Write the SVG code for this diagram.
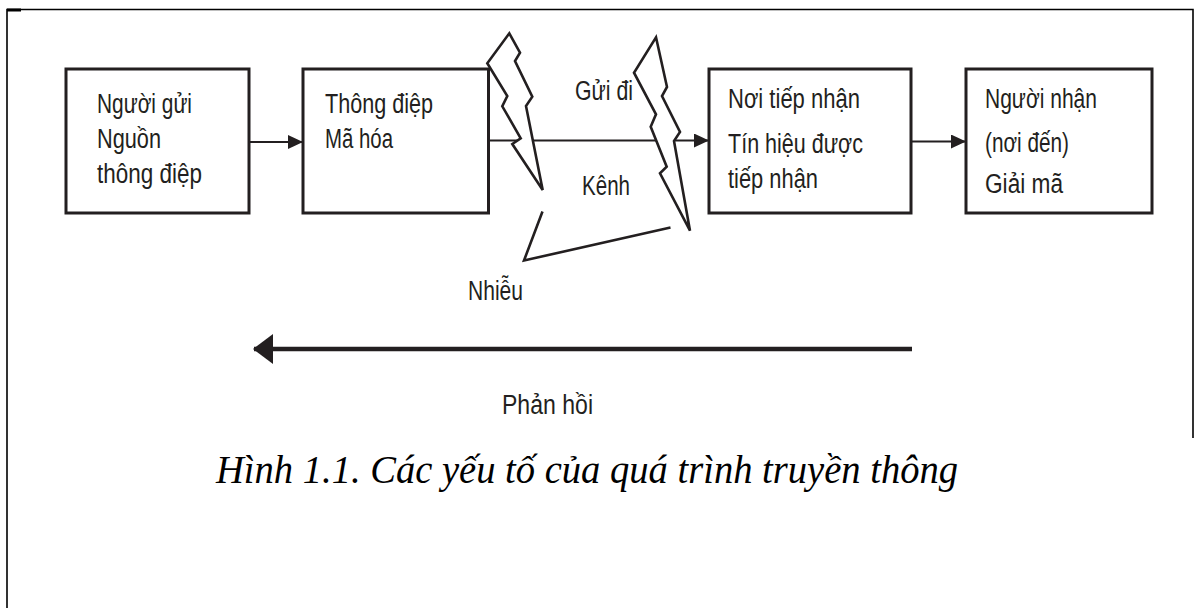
<svg xmlns="http://www.w3.org/2000/svg" width="1195" height="608" viewBox="0 0 1195 608">
  <defs>
    <style>
      .frame { fill: none; stroke: #000; stroke-width: 1.6; }
      .box { fill: #fff; stroke: #231f20; stroke-width: 3; }
      .lbl { font-family: "Liberation Sans", Arial, sans-serif; font-size: 27px; fill: #231f20; }
      .cap { font-family: "Liberation Serif", "Times New Roman", serif; font-style: italic; font-size: 41px; fill: #000; }
      .link { stroke: #231f20; stroke-width: 2.2; fill: none; }
      .bolt { fill: #fff; stroke: #231f20; stroke-width: 2.6; stroke-linejoin: miter; }
      .noise { fill: none; stroke: #231f20; stroke-width: 2.6; }
      .fb { stroke: #231f20; stroke-width: 4.5; fill: none; }
    </style>
    <marker id="head" viewBox="0 0 15 14" refX="15" refY="7" markerWidth="15" markerHeight="14" markerUnits="userSpaceOnUse" orient="auto">
      <path d="M0,0 L15,7 L0,14 Z" fill="#231f20"/>
    </marker>
    <marker id="headBig" viewBox="0 0 20 30" refX="19" refY="15" markerWidth="20" markerHeight="30" markerUnits="userSpaceOnUse" orient="auto">
      <path d="M0,0 L20,15 L0,30 Z" fill="#231f20"/>
    </marker>
  </defs>

  <!-- page frame -->
  <g id="frame">
    <path class="frame" d="M7,608 L7,9.5 L1193,9.5 L1193,438"/>
    <rect x="7" y="8.5" width="14" height="3" fill="#000"/>
  </g>

  <!-- connectors -->
  <g id="connectors">
    <line class="link" x1="249" y1="142" x2="303" y2="142" marker-end="url(#head)"/>
    <line class="link" x1="488.5" y1="140.5" x2="709" y2="140.5" marker-end="url(#head)"/>
    <line class="link" x1="911" y1="141.5" x2="966" y2="141.5" marker-end="url(#head)"/>
    <line class="fb" x1="912" y1="349" x2="254" y2="349" marker-end="url(#headBig)"/>
  </g>

  <g id="sender">
    <rect class="box" x="66" y="69" width="183" height="144"/>
    <text class="lbl" x="97" y="113" textLength="95" lengthAdjust="spacingAndGlyphs">Người gửi</text>
    <text class="lbl" x="97" y="148" textLength="64" lengthAdjust="spacingAndGlyphs">Nguồn</text>
    <text class="lbl" x="97" y="183" textLength="105" lengthAdjust="spacingAndGlyphs">thông điệp</text>
  </g>

  <g id="message">
    <rect class="box" x="303" y="69" width="185.5" height="144"/>
    <text class="lbl" x="325" y="113" textLength="108" lengthAdjust="spacingAndGlyphs">Thông điệp</text>
    <text class="lbl" x="325" y="148" textLength="68" lengthAdjust="spacingAndGlyphs">Mã hóa</text>
  </g>

  <g id="receiver-point">
    <rect class="box" x="709" y="69" width="202" height="144"/>
    <text class="lbl" x="728" y="108" textLength="132" lengthAdjust="spacingAndGlyphs">Nơi tiếp nhận</text>
    <text class="lbl" x="728" y="153" textLength="135" lengthAdjust="spacingAndGlyphs">Tín hiệu được</text>
    <text class="lbl" x="728" y="188" textLength="90" lengthAdjust="spacingAndGlyphs">tiếp nhận</text>
  </g>

  <g id="receiver">
    <rect class="box" x="966" y="69" width="186" height="144"/>
    <text class="lbl" x="985" y="108" textLength="112" lengthAdjust="spacingAndGlyphs">Người nhận</text>
    <text class="lbl" x="985" y="152" textLength="84" lengthAdjust="spacingAndGlyphs">(nơi đến)</text>
    <text class="lbl" x="985" y="193" textLength="78" lengthAdjust="spacingAndGlyphs">Giải mã</text>
  </g>

  <!-- channel labels -->
  <g id="channel">
    <text class="lbl" x="575" y="100" textLength="58" lengthAdjust="spacingAndGlyphs">Gửi đi</text>
    <text class="lbl" x="582" y="195" textLength="48" lengthAdjust="spacingAndGlyphs">Kênh</text>
  </g>

  <!-- noise: two lightning bolts and the pointer lines -->
  <g id="noise">
    <path class="bolt" d="M509.3,33.3 L520,52.7 L515,61 L532.3,96.7 L526,106 L542.7,190 L512.3,144 L520.7,138.3 L502.3,106.3 L507.3,96 L487.3,63.3 Z"/>
    <path class="bolt" d="M656,37.3 L667,87 L662,96 L680,132 L674,141 L690,230.7 L660,173.3 L666.7,166.7 L650.7,126.7 L656,114.3 L634,72.7 Z"/>
    <polyline class="noise" points="542.5,211.5 524,260.5 670.5,227.5"/>
    <text class="lbl" x="468" y="300" textLength="55" lengthAdjust="spacingAndGlyphs">Nhiễu</text>
  </g>

  <g id="feedback">
    <text class="lbl" x="502" y="414" textLength="91" lengthAdjust="spacingAndGlyphs">Phản hồi</text>
  </g>

  <g id="caption">
    <text class="cap" x="216" y="483" textLength="742" lengthAdjust="spacingAndGlyphs">Hình 1.1. Các yếu tố của quá trình truyền thông</text>
  </g>
</svg>
